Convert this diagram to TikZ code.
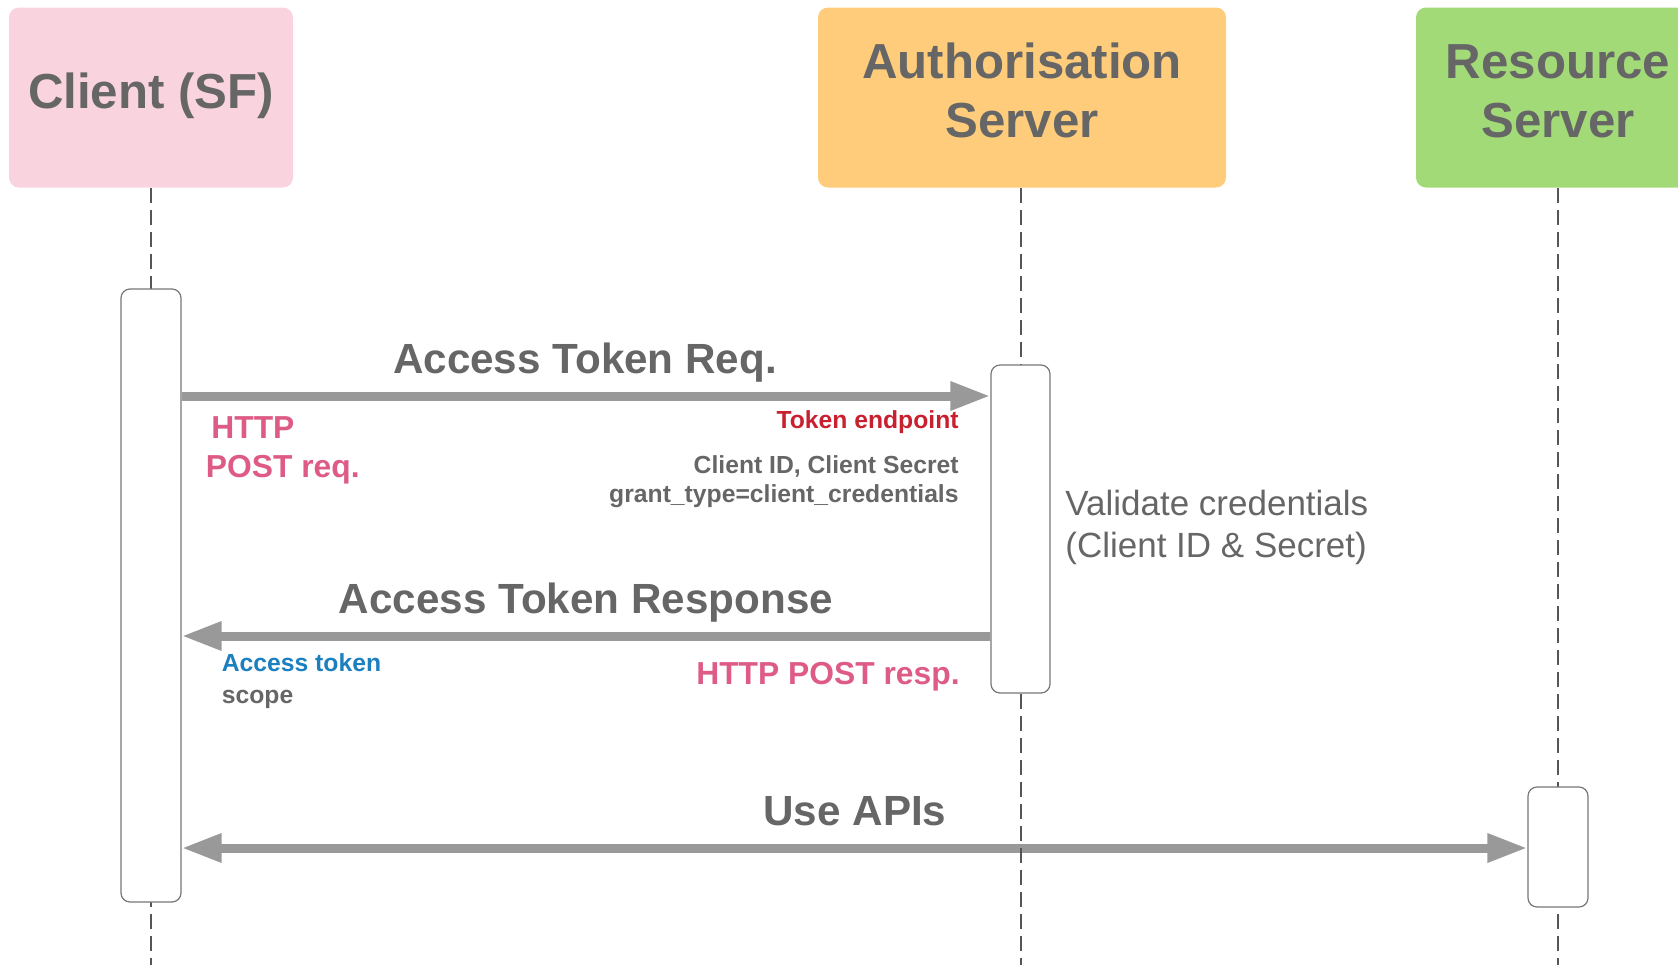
\documentclass[tikz,border=0pt]{standalone}
\usepackage{fontspec}
\setmainfont{Liberation Sans}
\usetikzlibrary{arrows.meta}

\definecolor{txtgray}{HTML}{666666}
\definecolor{arrowgray}{HTML}{999999}
\definecolor{linegray}{HTML}{555555}
\definecolor{actgray}{HTML}{777777}
\definecolor{clientfill}{HTML}{F9D3DE}
\definecolor{authfill}{HTML}{FECC7A}
\definecolor{resfill}{HTML}{A3DA78}
\definecolor{httppink}{HTML}{DE5B86}
\definecolor{endred}{HTML}{C8202F}
\definecolor{tokblue}{HTML}{1B7FC0}

\pgfdeclarelayer{msglayer}
\pgfdeclarelayer{lifelayer}
\pgfsetlayers{msglayer,lifelayer,main}

\tikzset{
  headbox/.style={rectangle, rounded corners=5pt, draw=none, inner sep=0pt,
    minimum height=90pt},
  headtxt/.style={anchor=base, inner sep=0pt, text=txtgray,
    font=\bfseries\fontsize{24.6}{29.5}\selectfont},
  actbox/.style={rectangle, rounded corners=4.5pt, draw=actgray, fill=white,
    line width=0.6pt, inner sep=0pt, minimum width=30pt},
  lifeline/.style={draw=linegray, line width=0.6pt, dash pattern=on 7.5pt off 3.5pt},
  msg/.style={draw=arrowgray, line width=4.5pt,
    -{Triangle[length=20pt,width=13.5pt]}},
  msgboth/.style={draw=arrowgray, line width=4.5pt,
    {Triangle[length=20pt,width=13.5pt]}-{Triangle[length=20pt,width=13.5pt]}},
  msglbl/.style={anchor=base, inner sep=0pt, text=txtgray,
    font=\bfseries\fontsize{21.1}{25}\selectfont},
  pinklbl/.style={inner sep=0pt, text=httppink,
    font=\bfseries\fontsize{15.9}{19.3}\selectfont},
  smalllbl/.style={inner sep=0pt, text=txtgray,
    font=\bfseries\fontsize{12.35}{14.5}\selectfont},
  notelbl/.style={anchor=base west, inner sep=0pt, text=txtgray,
    font=\fontsize{17.5}{21}\selectfont},
}

\begin{document}
\begin{tikzpicture}[x=0.5pt, y=-0.5pt]
\useasboundingbox (0,0) rectangle (1678,965);
\clip (0,0) rectangle (1678,965);

% participant headers
\node[headbox, fill=clientfill, minimum width=142pt] (client) at (151,97.5) {};
\node[headbox, fill=authfill, minimum width=204pt] (auth) at (1022,97.5) {};
\node[headbox, fill=resfill, minimum width=142pt] (res) at (1558,97.5) {};

\node[headtxt] (clienttxt) at (151,108) {Client (SF)};
\node[headtxt] (authtxt1) at (1022,78) {Authorisation};
\node[headtxt] (authtxt2) at (1022,137) {Server};
\node[headtxt] (restxt1) at (1558,78) {Resource};
\node[headtxt] (restxt2) at (1558,137) {Server};

% bottom ends of the lifelines
\coordinate (clientend) at (151,965);
\coordinate (authend) at (1021,965);
\coordinate (resend) at (1558,965);

% activation bars
\node[actbox, minimum height=306.5pt] (clientact) at (151,595.5) {};
\node[actbox, minimum height=164pt, minimum width=29.5pt] (authact) at (1020.5,529) {};
\node[actbox, minimum height=60pt] (resact) at (1558,847) {};

% lifelines
\begin{pgfonlayer}{lifelayer}
\draw[lifeline] (client.south) -- (clientend);
\draw[lifeline] (auth.south -| authend) -- (authend);
\draw[lifeline] (res.south) -- (resend);
\end{pgfonlayer}

% message rows
\coordinate (reqrow) at (0,396);
\coordinate (resprow) at (0,636);
\coordinate (apirow) at (0,848);

\begin{pgfonlayer}{msglayer}
\draw[msg] (clientact.east |- reqrow) -- (authact.west |- reqrow);
\draw[msg] (authact.west |- resprow) -- (clientact.east |- resprow);
\draw[msgboth] (clientact.east |- apirow) -- (resact.west |- apirow);
\end{pgfonlayer}

% message labels
\node[msglbl] (reqlbl) at (585,373.5) {Access Token Req.};
\node[msglbl] (resplbl) at (586,613) {Access Token Response};
\node[msglbl] (apilbl) at (855,825) {Use APIs};

% request annotations
\node[pinklbl, anchor=base west] (http1) at (211,438) {HTTP};
\node[pinklbl, anchor=base west] (http2) at (205.5,477) {POST req.};
\node[smalllbl, anchor=base east, text=endred] (endpoint) at (959,428) {Token endpoint};
\node[smalllbl, anchor=base east] (cred1) at (959,473) {Client ID, Client Secret};
\node[smalllbl, anchor=base east] (cred2) at (959,502) {grant\_type=client\_credentials};

% validation note
\node[notelbl] (note1) at (1065,515) {Validate credentials};
\node[notelbl] (note2) at (1065,557) {(Client ID \& Secret)};

% response annotations
\node[smalllbl, anchor=base west, text=tokblue] (tok) at (221.5,671.5) {Access token};
\node[smalllbl, anchor=base west] (scope) at (221.5,703) {scope};
\node[pinklbl, anchor=base east] (httpresp) at (960,684) {HTTP POST resp.};
\end{tikzpicture}
\end{document}
